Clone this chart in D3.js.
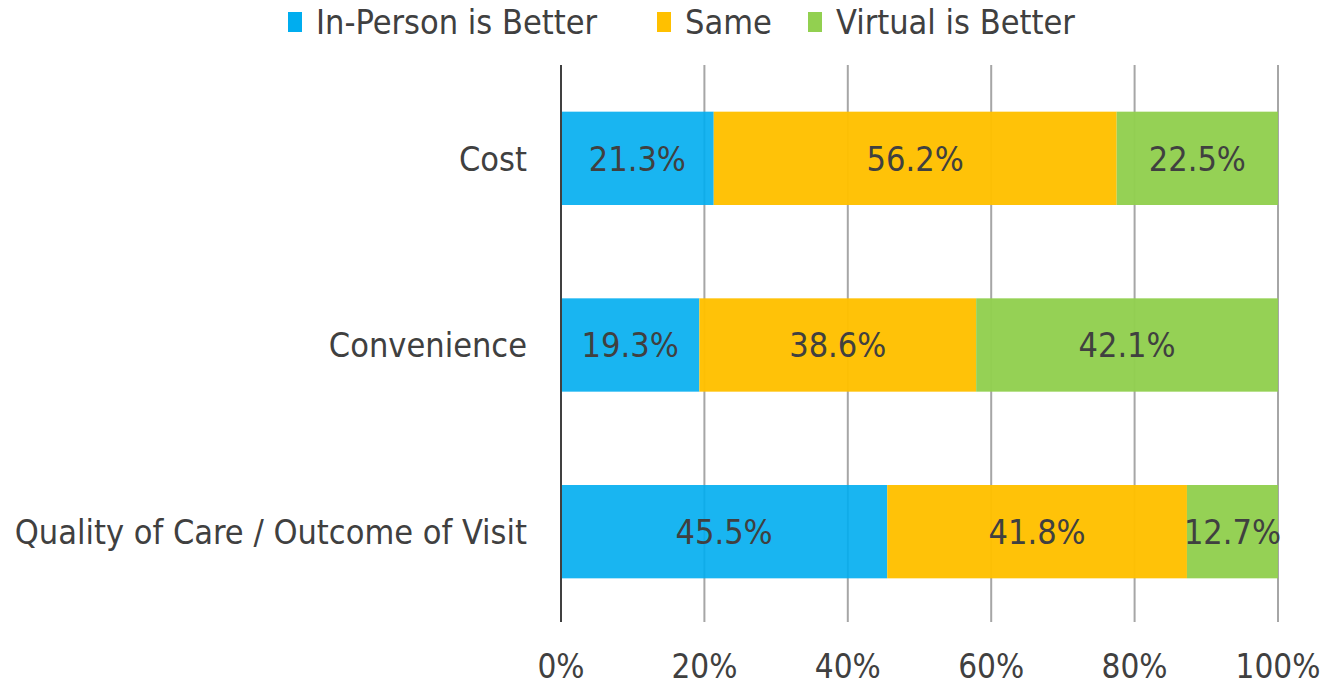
<!DOCTYPE html>
<html>
<head>
<meta charset="utf-8">
<script src="https://cdn.jsdelivr.net/npm/d3@7"></script>
<style>
  body { margin: 0; background: #fff; }
  svg text { font-family: "DejaVu Sans Condensed", "Liberation Sans Narrow", sans-serif; fill: #404040; }
</style>
</head>
<body>
<svg id="chart" width="1326" height="686"></svg>
<script>
const categories = ['Cost', 'Convenience', 'Quality of Care / Outcome of Visit'];
const seriesNames = ['In-Person is Better', 'Same', 'Virtual is Better'];
const inPerson = [21.3, 19.3, 45.5];
const same = [56.2, 38.6, 41.8];
const virtual = [22.5, 42.1, 12.7];
const xTicks = [0, 20, 40, 60, 80, 100];
const colors = ['#00adef', '#ffc000', '#92d050'];

const svg = d3.select('#chart');
const margin = { top: 65, right: 48, bottom: 61, left: 561 };
const width = 1326 - margin.left - margin.right;
const height = 686 - margin.top - margin.bottom;

const rows = categories.map((c, i) => ({ cat: c, vals: [inPerson[i], same[i], virtual[i]] }));

const x = d3.scaleLinear().domain([0, 100]).range([0, width]);
const y = d3.scaleBand().domain(categories).range([0, height]).paddingInner(0.5).paddingOuter(0.25);

const g = svg.append('g').attr('transform', `translate(${margin.left},${margin.top})`);

// gridlines
g.selectAll('.grid')
  .data(xTicks.slice(1))
  .join('line')
  .attr('x1', d => x(d)).attr('x2', d => x(d))
  .attr('y1', 0).attr('y2', height - 3)
  .attr('stroke', '#a6a6a6')
  .attr('stroke-width', 2);

// stacked bars
rows.forEach(r => {
  let acc = 0;
  r.vals.forEach((v, k) => {
    const x0 = acc;
    acc += v;
    g.append('rect')
      .attr('x', x(x0))
      .attr('y', y(r.cat))
      .attr('width', x(acc) - x(x0))
      .attr('height', y.bandwidth())
      .attr('fill', colors[k])
      .attr('fill-opacity', k === 0 ? 0.9 : 0.97);
    g.append('text')
      .attr('x', x(x0 + v / 2))
      .attr('y', y(r.cat) + y.bandwidth() / 2)
      .attr('dy', '0.36em')
      .attr('text-anchor', 'middle')
      .attr('font-size', '34px')
      .text(v.toFixed(1) + '%');
  });
});

// category axis line
g.append('line')
  .attr('x1', 0).attr('x2', 0)
  .attr('y1', 0).attr('y2', height - 3)
  .attr('stroke', '#404040')
  .attr('stroke-width', 2);

// category labels
g.selectAll('.cat')
  .data(categories)
  .join('text')
  .attr('x', -34)
  .attr('y', d => y(d) + y.bandwidth() / 2)
  .attr('dy', '0.36em')
  .attr('text-anchor', 'end')
  .attr('font-size', '34px')
  .text(d => d);

// x tick labels
g.selectAll('.xt')
  .data(xTicks)
  .join('text')
  .attr('x', d => x(d))
  .attr('y', height + 41)
  .attr('dy', '0.36em')
  .attr('text-anchor', 'middle')
  .attr('font-size', '33px')
  .text(d => d + '%');

// legend
const legendX = [288, 657, 808];
seriesNames.forEach((s, k) => {
  svg.append('rect')
    .attr('x', legendX[k]).attr('y', 12)
    .attr('width', 14).attr('height', 20)
    .attr('fill', colors[k]);
  svg.append('text')
    .attr('x', legendX[k] + 28)
    .attr('y', 22)
    .attr('dy', '0.36em')
    .attr('font-size', '34px')
    .text(s);
});
</script>
</body>
</html>
